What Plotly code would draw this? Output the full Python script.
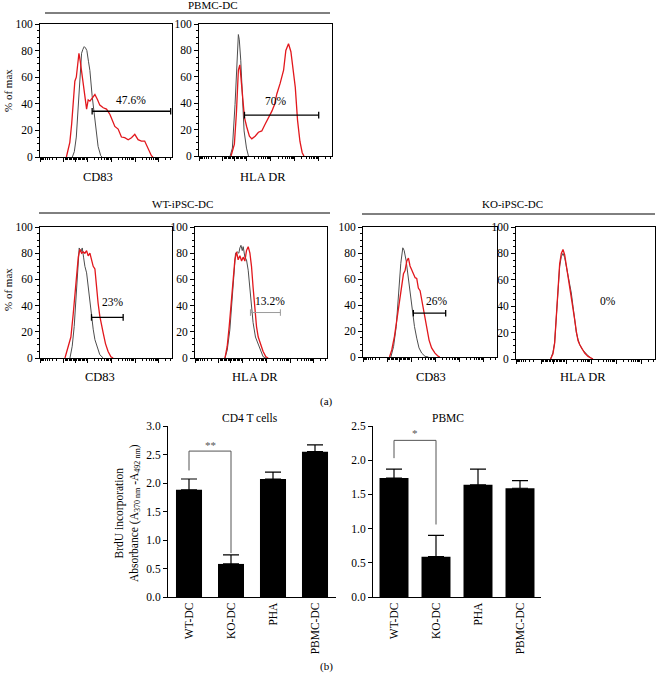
import math
import plotly.graph_objects as go

# ---------------- data ----------------
# Flow cytometry histograms (x: position along the plot, % of width; y: % of max)
# Panel 1: PBMC-DC, CD83
p1_iso_x = [24.5, 26, 27.5, 29, 30.5, 31.5, 32.5, 33.5, 34.5, 35.5, 36.7, 37.8, 39.5, 41.6, 44, 46, 47]
p1_iso_y = [0, 4, 15, 40, 68, 78, 81, 83, 82, 80, 72, 65, 46, 26, 8, 1, 0]
p1_stain_x = [20, 22.6, 24, 25, 26.4, 27.5, 28.5, 29.5, 30.5, 31.5, 33.5, 34.5, 35.3, 36.5, 37.8, 39.5,
              41.6, 43.6, 45.3, 47.9, 50.4, 53, 54.7, 56.7, 59.2, 61.7, 64.2, 66.8, 69.3, 71.8, 74.3,
              76.8, 79.3, 81.9, 84.4, 85.6]
p1_stain_y = [0, 11, 25, 38, 57, 60, 70, 78, 72, 65, 53, 42, 36, 43, 42, 44, 47, 43, 39, 37, 36, 32, 28,
              23, 21, 15, 14.5, 13, 14.5, 17, 13, 12, 12, 6, 1, 0]
# Panel 2: PBMC-DC, HLA DR
p2_iso_x = [23.4, 25.1, 27.1, 28.9, 29.6, 30.3, 31.4, 32.7, 33.9, 35.7, 37.2]
p2_iso_y = [0, 6, 39, 78, 92, 88, 72.5, 44.5, 19, 6, 0]
p2_stain_x = [24.1, 26.6, 28.1, 29.6, 30.7, 31.7, 32.9, 34.2, 35.9, 37.9, 39.7, 42.2, 44.7, 47.2, 49.7,
              52.3, 54.8, 56.8, 58.5, 61, 63.6, 65.3, 67.3, 69.1, 70.6, 72.4, 74.1, 75.9, 77.6, 78.9]
p2_stain_y = [0, 9, 32, 65, 69, 57, 39, 29, 22, 15, 13, 15, 18, 19, 24, 29, 34, 39, 47, 55, 65, 80, 85,
              79, 67, 52, 27, 11, 2.5, 0]
# Panel 3: WT-iPSC-DC, CD83
p3_iso_x = [22.7, 24.4, 25.9, 27.5, 28.5, 29.7, 31, 32, 33, 34, 35.3, 36.5, 37.8, 39, 40.3, 41.6, 43.3,
            45.3, 47.9]
p3_iso_y = [0, 9, 24, 47, 67, 84, 81, 84, 77, 70, 65, 54, 42, 32, 22, 14, 8, 2.5, 0]
p3_stain_x = [18.9, 21.4, 23.4, 25.2, 26.4, 27.7, 29, 30.2, 31.5, 32.7, 34, 35.3, 36.5, 37.8, 39, 40.3,
              41.6, 42.8, 44, 45.3, 46.6, 47.9, 49.6, 51.6, 53.7, 55.4]
p3_stain_y = [0, 8, 16, 34, 49, 66, 77, 83, 80, 81, 80, 82, 78, 80, 76, 70, 68, 54, 42, 32, 24, 19, 11,
              5, 1, 0]
# Panel 4: WT-iPSC-DC, HLA DR
p4_iso_x = [22.7, 24.4, 26.4, 28.2, 29.5, 30.7, 32, 33.2, 34, 34.8, 35.8, 36.5, 37.8, 39, 40.3, 41.6,
            42.8, 44, 45.8, 47.9, 49.6, 51.6, 53.7]
p4_iso_y = [0, 6, 21.5, 49, 67, 80, 81, 80, 84, 86, 82, 85, 77, 75, 67, 54, 39, 27, 16, 10, 5, 1, 0]
p4_stain_x = [22.7, 24.4, 25.9, 27.7, 29, 30.2, 31.5, 32.7, 34, 35.3, 36.5, 37.8, 39, 40.3, 41.6, 42.8,
              44, 45.3, 46.6, 47.9, 49.6, 51.6, 53.7, 55.4]
p4_stain_y = [0, 9, 24, 47, 65, 75, 81, 75, 78, 74, 77, 74, 82, 85, 80, 70, 54, 39, 24, 16, 10, 5, 1, 0]
# Panel 5: KO-iPSC-DC, CD83
p5_iso_x = [20.8, 22.8, 24.8, 26.5, 28.2, 29.7, 30.7, 32.2, 33.4, 34.7, 35.9, 37.1, 38.4, 40.1, 41.8,
            43.8, 46.3, 48.8]
p5_iso_y = [0, 8, 23.5, 46, 72, 84, 82, 74, 64, 54, 44, 34, 23.5, 14.5, 7, 3, 0.5, 0]
p5_stain_x = [19.8, 21.5, 23.5, 25.2, 27.2, 28.9, 30.2, 31.4, 32.7, 33.9, 35.1, 36.4, 37.6, 38.9, 40.1,
              41.3, 42.6, 43.8, 45, 46.3, 47.5, 49.3, 51.2, 53.7, 56.2, 57.4]
p5_stain_y = [0, 5.6, 16, 28.5, 44, 57, 64, 66.5, 74, 76, 70, 67, 64, 61, 60.5, 53, 51, 44, 36, 28.5, 21,
              13, 7, 3, 0.5, 0]
# Panel 6: KO-iPSC-DC, HLA DR
p6_iso_x = [24.9, 26.6, 27.8, 29.0, 30.2, 31.4, 32.6, 33.8, 35.0, 36.2, 37.4, 38.6, 39.8, 41.0, 42.2,
            43.4, 44.6, 45.8, 47.5, 49.4, 51.8, 54.2, 55.4]
p6_iso_y = [0, 5, 12.5, 30, 55, 70, 77.5, 80, 77, 70, 65, 55, 50, 40, 30, 20, 15, 11, 7.5, 5, 2.5, 0.5, 0]
p6_stain_x = [24.9, 26.6, 27.8, 29.0, 30.2, 31.4, 32.6, 33.8, 35.0, 36.2, 37.4, 38.6, 39.8, 41.0, 42.2,
              43.4, 44.6, 45.8, 47.5, 49.4, 51.8, 54.2, 55.4]
p6_stain_y = [0, 4, 12, 31, 56, 72, 80, 83, 79, 71, 64, 56, 49, 41, 30, 21, 14, 11, 8, 4.5, 2, 0.5, 0]

marker_labels = ["CD83", "HLA DR", "CD83", "HLA DR", "CD83", "HLA DR"]
pct_labels = ["47.6%", "70%", "23%", "13.2%", "26%", "0%"]
pct_label_x = [69, 58, 55.4, 56.7, 55.4, 66]
pct_label_y = [43, 42, 43, 43.5, 43, 44]
gate_x0 = [39.5, 34.2, 39, 42, 37.6, None]
gate_x1 = [99, 90, 63, 64.7, 61.7, None]
gate_y = [34.4, 31, 31, 34.7, 33.7, None]

group_titles = ["PBMC-DC", "WT-iPSC-DC", "KO-iPSC-DC"]

# BrdU proliferation bars
bar_categories = ["WT-DC", "KO-DC", "PHA", "PBMC-DC"]
cd4_values = [1.88, 0.58, 2.07, 2.55]
cd4_errors = [0.19, 0.16, 0.12, 0.12]
pbmc_values = [1.74, 0.59, 1.64, 1.59]
pbmc_errors = [0.13, 0.31, 0.23, 0.11]
cd4_sig = "**"
pbmc_sig = "*"

# ---------------- layout helpers ----------------
W, H = 656, 673
FONT = "Liberation Serif"
RED = "#e2171c"
GRAY = "#4d4d4d"


def fx(p):
    return p / W


def fy(p):
    return 1 - p / H


def biex_ticks():
    major = [0, 18, 27, 36, 54, 72, 90]
    minor = []
    for k in range(2, 10):
        minor.append(18 - 18 * math.log10(k))
    for i in range(1, 9):
        minor.append(18 + i * 1.0)
        minor.append(27 + i * 1.0)
    for d in (36, 54, 72, 90):
        for k in range(2, 10):
            v = d + 18 * math.log10(k)
            if v <= 100:
                minor.append(v)
    return major, sorted(minor)


MAJ, MIN = biex_ticks()


def ptext(text, px, py, size=11, angle=0, color="black"):
    return dict(x=fx(px), y=fy(py), xref="paper", yref="paper", text=text, showarrow=False,
                xanchor="center", yanchor="middle", textangle=angle,
                font=dict(family=FONT, size=size, color=color))


panel_px = [  # x0, x1, ytop, ybottom (pixels)
    (40, 172, 24, 157),
    (199, 332, 24, 156),
    (40, 172, 227, 358),
    (195, 327, 227, 358),
    (363, 497, 227, 357),
    (516, 655, 227, 359),
]
label_px = [(98, 177), (263, 177), (100, 377), (255, 377), (431, 377), (583, 377)]
curves = [
    (p1_iso_x, p1_iso_y, p1_stain_x, p1_stain_y),
    (p2_iso_x, p2_iso_y, p2_stain_x, p2_stain_y),
    (p3_iso_x, p3_iso_y, p3_stain_x, p3_stain_y),
    (p4_iso_x, p4_iso_y, p4_stain_x, p4_stain_y),
    (p5_iso_x, p5_iso_y, p5_stain_x, p5_stain_y),
    (p6_iso_x, p6_iso_y, p6_stain_x, p6_stain_y),
]

fig = go.Figure()
layout = dict(
    width=W, height=H, margin=dict(l=0, r=0, t=0, b=0, pad=0), autosize=False,
    paper_bgcolor="white", plot_bgcolor="white", showlegend=False,
    font=dict(family=FONT, size=11, color="black"),
)
annotations = []
shapes = []

for i, (px, cv) in enumerate(zip(panel_px, curves)):
    n = i + 1
    xa = "x" if n == 1 else f"x{n}"
    ya = "y" if n == 1 else f"y{n}"
    ix, iy, sx, sy = cv
    fig.add_trace(go.Scatter(x=ix, y=iy, mode="lines", line=dict(color=GRAY, width=1),
                             xaxis=xa, yaxis=ya, hoverinfo="skip"))
    fig.add_trace(go.Scatter(x=sx, y=sy, mode="lines", line=dict(color=RED, width=1.3),
                             xaxis=xa, yaxis=ya, hoverinfo="skip"))
    x0, x1, yt, yb = px
    layout["xaxis" if n == 1 else f"xaxis{n}"] = dict(
        domain=[fx(x0), fx(x1)], range=[0, 100], anchor=ya, automargin=False,
        showline=True, linecolor="black", linewidth=1, mirror=True,
        showgrid=False, zeroline=False, showticklabels=False,
        tickmode="array", tickvals=MAJ, ticks="outside", ticklen=4, tickcolor="black",
        minor=dict(tickmode="array", tickvals=MIN, ticks="outside", ticklen=2, tickcolor="black"),
    )
    layout["yaxis" if n == 1 else f"yaxis{n}"] = dict(
        domain=[fy(yb), fy(yt)], range=[0, 100], anchor=xa, automargin=False,
        showline=True, linecolor="black", linewidth=1, mirror=True,
        showgrid=False, zeroline=False,
        tickmode="array", tickvals=[0, 20, 40, 60, 80, 100],
        ticks="outside", ticklen=4, tickcolor="black",
        minor=dict(dtick=5, ticks="outside", ticklen=2, tickcolor="black"),
        tickfont=dict(family=FONT, size=11.5),
    )
    # percent labels
    annotations.append(dict(x=pct_label_x[i], y=pct_label_y[i], xref=xa, yref=ya, text=pct_labels[i],
                            xanchor="center", yanchor="middle",
                            showarrow=False, font=dict(family=FONT, size=11.5)))
    # gates
    if gate_x0[i] is not None:
        gcol = "#9a9a9a" if i == 3 else "black"
        gw = 1 if i == 3 else 1.3
        shapes.append(dict(type="line", xref=xa, yref=ya, x0=gate_x0[i], x1=gate_x1[i],
                           y0=gate_y[i], y1=gate_y[i], line=dict(color=gcol, width=gw)))
        for gx in (gate_x0[i], gate_x1[i]):
            shapes.append(dict(type="line", xref=xa, yref=ya, x0=gx, x1=gx,
                               y0=gate_y[i] - 2.5, y1=gate_y[i] + 2.5, line=dict(color=gcol, width=gw)))
    # marker label
    lx, ly = label_px[i]
    annotations.append(ptext(marker_labels[i], lx, ly, size=12.5))

# "% of max" labels
for yy in (91, 290):
    annotations.append(ptext("% of max", 8, yy, size=11, angle=-90))

# group titles and lines
group_px = [(213, 5, 45, 330, 13), (182, 204, 39, 330, 213), (512, 204, 362, 655, 214)]
for t, (tx, ty, l0, l1, ly) in zip(group_titles, group_px):
    annotations.append(ptext(t, tx, ty, size=11))
    shapes.append(dict(type="line", xref="paper", yref="paper", x0=fx(l0), x1=fx(l1),
                       y0=fy(ly), y1=fy(ly), line=dict(color="black", width=1)))

# ---------------- bar charts ----------------
bar_specs = [
    dict(n=7, vals=cd4_values, errs=cd4_errors, x=(168, 336), ymax=3.0, width=0.62,
         title="CD4 T cells", tx=250, sig=cd4_sig,
         br=(2.22, 2.56, 0.77), star_y=2.67),
    dict(n=8, vals=pbmc_values, errs=pbmc_errors, x=(373, 541), ymax=2.5, width=0.69,
         title="PBMC", tx=448, sig=pbmc_sig,
         br=(2.03, 2.29, 1.06), star_y=2.40),
]
for b in bar_specs:
    n = b["n"]
    xa, ya = f"x{n}", f"y{n}"
    fig.add_trace(go.Bar(
        x=bar_categories, y=b["vals"], width=b["width"], marker=dict(color="black", line=dict(width=0)),
        error_y=dict(type="data", array=b["errs"], symmetric=False, arrayminus=[0] * len(b["errs"]),
                     color="black", thickness=1.2, width=8),
        xaxis=xa, yaxis=ya, hoverinfo="skip"))
    layout[f"xaxis{n}"] = dict(
        domain=[fx(b["x"][0]), fx(b["x"][1])], anchor=ya, type="category", automargin=False,
        showline=True, linecolor="black", linewidth=1, showgrid=False, zeroline=False,
        ticks="", tickangle=-90, tickfont=dict(family=FONT, size=11.5),
    )
    layout[f"yaxis{n}"] = dict(
        domain=[fy(597), fy(426)], range=[0, b["ymax"]], anchor=xa, automargin=False,
        showline=True, linecolor="black", linewidth=1, showgrid=False, zeroline=False,
        dtick=0.5, tickformat=".1f", ticks="outside", ticklen=4, tickcolor="black",
        tickfont=dict(family=FONT, size=11.5),
    )
    yl, yh, yr = b["br"]
    c0, c1 = bar_categories[0], bar_categories[1]
    bl = dict(color="#555555", width=1)
    shapes.append(dict(type="line", xref=xa, yref=ya, x0=c0, x1=c0, y0=yl, y1=yh, line=bl))
    shapes.append(dict(type="line", xref=xa, yref=ya, x0=c0, x1=c1, y0=yh, y1=yh, line=bl))
    shapes.append(dict(type="line", xref=xa, yref=ya, x0=c1, x1=c1, y0=yh, y1=yr, line=bl))
    annotations.append(dict(x=0.5, y=b["star_y"], xref=xa, yref=ya, text=b["sig"], showarrow=False,
                            xanchor="center", yanchor="middle",
                            font=dict(family=FONT, size=11, color="#555555")))
    annotations.append(ptext(b["title"], b["tx"], 418, size=11.5))

annotations.append(ptext("BrdU incorporation<br>Absorbance (A<sub>370 nm</sub> -A<sub>492 nm</sub>)",
                         127, 513, size=11.5, angle=-90))
annotations.append(ptext("(a)", 326, 401, size=11))
annotations.append(ptext("(b)", 326, 666, size=11))

layout["annotations"] = annotations
layout["shapes"] = shapes
fig.update_layout(**layout)
fig.write_html(
    "out.html",
    config={"displayModeBar": False, "staticPlot": True},
    post_script="document.body.style.margin='0';document.body.style.padding='0';"
                "document.documentElement.style.overflow='hidden';",
)
